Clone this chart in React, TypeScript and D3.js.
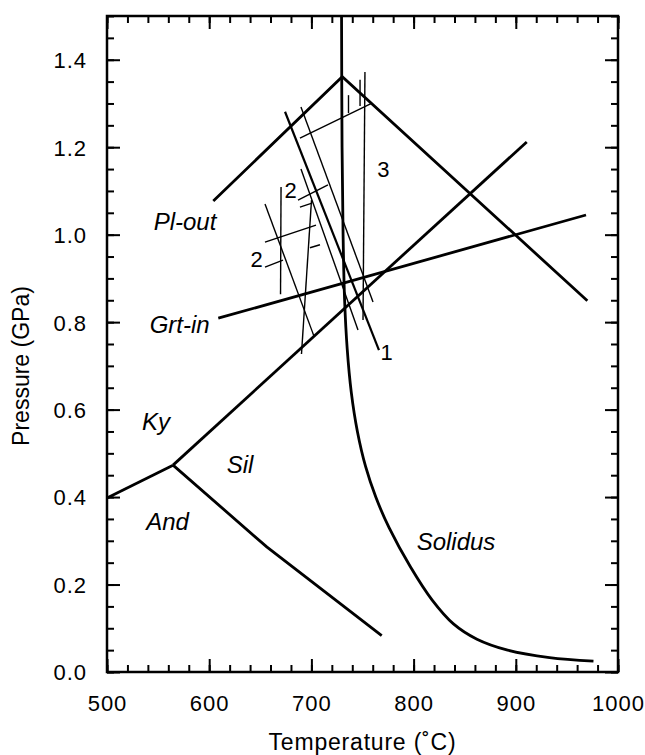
import React, { useEffect, useRef } from "react";
import * as d3 from "d3";

// axis ticks
const tempTicks = [500, 600, 700, 800, 900, 1000];
const tempMinor = d3.range(500, 1001, 20);
const pressureTicks = [0, 0.2, 0.4, 0.6, 0.8, 1.0, 1.2, 1.4];
const pressureMinor = d3.range(0, 1.501, 0.05);

// phase boundaries [T, P]
const andKy = [[500, 0.398], [564.6, 0.473]];
const kySil = [[564.6, 0.473], [910.7, 1.212]];
const andSil = [[564.6, 0.473], [656.3, 0.286], [768.8, 0.083]];
const plOut = [[604, 1.077], [730.2, 1.361], [970, 0.849]];
const grtIn = [[608.9, 0.809], [968.7, 1.045]];
const solidus = [
  [729.5, 1.5], [730, 1.2], [731, 1.0], [732.5, 0.85], [735, 0.74], [739, 0.64],
  [745, 0.55], [753, 0.47], [763, 0.4], [776, 0.33], [797, 0.24], [818, 0.165],
  [839, 0.11], [862, 0.075], [892, 0.05], [933, 0.033], [976, 0.025]
];

// experimental reaction lines (thin)
const line1 = [[674.2, 1.281], [766.1, 0.736]];
const lineB = [[689.8, 1.292], [760.3, 0.846]];
const lineC = [[688.8, 1.221], [759.3, 1.301]];
const markC1 = [[736.3, 1.319], [736.3, 1.278]];
const markC2 = [[747.6, 1.354], [747.6, 1.294]];
const line3 = [[752.4, 1.372], [750.5, 0.805]];
const lineD = [[670.3, 1.109], [669.8, 0.864]];
const lineE = [[654.6, 1.07], [702.5, 0.768]];
const lineF = [[700.1, 1.079], [690.3, 0.727]];
const lineG = [[689.8, 1.15], [745.6, 0.782]];
const upper2 = [[686.9, 1.079], [716.2, 1.114]];
const upper2Tick = [[688.8, 1.063], [700.6, 1.072]];
const lower2 = [[654.6, 0.983], [704.5, 1.022]];
const lower2Tick1 = [[654.6, 0.926], [672.2, 0.942]];
const lower2Tick2 = [[698.6, 0.97], [708.4, 0.977]];

const straightLines = [andKy, kySil, andSil, plOut, grtIn];
const thinLines = [lineB, lineC, markC1, markC2, line3, lineD, lineE, lineF, lineG,
  upper2, upper2Tick, lower2, lower2Tick1, lower2Tick2];

// labels [text, T, P]
const fieldLabels = [
  ["Pl-out", 576.3, 1.011], ["Grt-in", 571.1, 0.775], ["Ky", 547.9, 0.553],
  ["Sil", 630.1, 0.455], ["And", 559.2, 0.325], ["Solidus", 841.5, 0.279]
];
const numberLabels = [["3", 770.5, 1.132], ["2", 679.6, 1.084], ["2", 646.3, 0.926], ["1", 773.5, 0.713]];

const W = 645, H = 755;
const margin = { top: 16, right: 27, bottom: 83, left: 107 };
const FONT = "'Liberation Sans', Arial, Helvetica, sans-serif";

export default function App() {
  const ref = useRef<SVGGElement>(null);
  const width = W - margin.left - margin.right;
  const height = H - margin.top - margin.bottom;

  useEffect(() => {
    const g = d3.select(ref.current);
    g.selectAll("*").remove();

    const x = d3.scaleLinear().domain([500, 1000]).range([0, width]);
    const y = d3.scaleLinear().domain([0, 1.5]).range([height, 0]);

    const addAxis = (axis, transform) => {
      const a = g.append("g").attr("transform", transform).call(axis);
      a.select(".domain").remove();
      a.selectAll("line").attr("stroke", "#000").attr("stroke-width", 2);
      return a;
    };

    // minor ticks
    addAxis(d3.axisBottom(x).tickValues(tempMinor).tickSize(-7).tickFormat(() => ""), `translate(0,${height})`);
    addAxis(d3.axisTop(x).tickValues(tempMinor).tickSize(-7).tickFormat(() => ""), "translate(0,0)");
    addAxis(d3.axisLeft(y).tickValues(pressureMinor).tickSize(-7).tickFormat(() => ""), "translate(0,0)");
    addAxis(d3.axisRight(y).tickValues(pressureMinor).tickSize(-7).tickFormat(() => ""), `translate(${width},0)`);

    // major ticks
    const xb = addAxis(d3.axisBottom(x).tickValues(tempTicks).tickSize(-13).tickPadding(0).tickFormat(d3.format("d")), `translate(0,${height})`);
    xb.selectAll("text").attr("y", 39).attr("dy", null)
      .style("font-family", FONT).style("font-size", "22px").style("letter-spacing", "1px").attr("fill", "#000");
    addAxis(d3.axisTop(x).tickValues(tempTicks).tickSize(-13).tickFormat(() => ""), "translate(0,0)");
    const yl = addAxis(d3.axisLeft(y).tickValues(pressureTicks).tickSize(-13).tickFormat(d3.format(".1f")), "translate(0,0)");
    yl.selectAll("text").attr("x", -20).attr("dy", "0.36em")
      .style("font-family", FONT).style("font-size", "22px").style("letter-spacing", "1px").attr("fill", "#000");
    addAxis(d3.axisRight(y).tickValues(pressureTicks).tickSize(-13).tickFormat(() => ""), `translate(${width},0)`);

    // frame
    g.append("rect").attr("width", width).attr("height", height)
      .attr("fill", "none").attr("stroke", "#000").attr("stroke-width", 2.5);

    const line = d3.line().x(d => x(d[0])).y(d => y(d[1]));
    const smooth = d3.line().x(d => x(d[0])).y(d => y(d[1])).curve(d3.curveCatmullRom.alpha(0.5));

    g.selectAll(".thin").data(thinLines).enter().append("path")
      .attr("d", d => line(d)).attr("fill", "none").attr("stroke", "#000").attr("stroke-width", 1.4);

    g.append("path").attr("d", line(line1)).attr("fill", "none").attr("stroke", "#000").attr("stroke-width", 2.2);

    g.selectAll(".thick").data(straightLines).enter().append("path")
      .attr("d", d => line(d))
      .attr("fill", "none").attr("stroke", "#000").attr("stroke-width", 2.8);

    g.append("path").attr("d", smooth(solidus))
      .attr("fill", "none").attr("stroke", "#000").attr("stroke-width", 2.8);

    g.selectAll(".field").data(fieldLabels).enter().append("text")
      .attr("x", d => x(d[1])).attr("y", d => y(d[2]))
      .attr("text-anchor", "middle").attr("font-style", "italic")
      .style("font-family", FONT).style("font-size", "24px").text(d => d[0]);

    g.selectAll(".num").data(numberLabels).enter().append("text")
      .attr("x", d => x(d[1])).attr("y", d => y(d[2]))
      .attr("text-anchor", "middle")
      .style("font-family", FONT).style("font-size", "22px").text(d => d[0]);

    // axis titles
    g.append("text").attr("x", width / 2).attr("y", height + 78)
      .attr("text-anchor", "middle").style("font-family", FONT).style("font-size", "23px")
      .style("letter-spacing", "0.8px").text("Temperature (˚C)");
    g.append("text").attr("transform", `translate(${-78},${350}) rotate(-90)`)
      .attr("text-anchor", "middle").style("font-family", FONT).style("font-size", "23px")
      .text("Pressure (GPa)");
  }, []);

  return (
    <svg width={W} height={H} style={{ position: "absolute", left: 0, top: 0, background: "#fff" }}>
      <g ref={ref} transform={`translate(${margin.left}, ${margin.top})`} />
    </svg>
  );
}
